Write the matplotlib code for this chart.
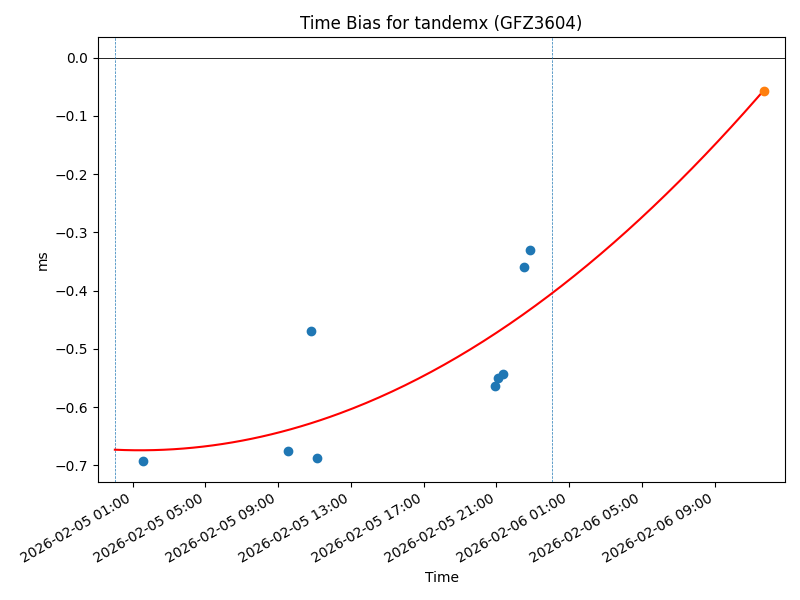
import numpy as np
import pandas as pd
from matplotlib import pyplot as plt
import matplotlib.dates as mdates

# observed time bias (ms)
obs_time = pd.to_datetime([
    '2026-02-05 01:33', '2026-02-05 09:31', '2026-02-05 10:47', '2026-02-05 11:07',
    '2026-02-05 20:56', '2026-02-05 21:05', '2026-02-05 21:20', '2026-02-05 22:31',
    '2026-02-05 22:52',
])
obs_bias = [-0.693, -0.676, -0.470, -0.688, -0.564, -0.550, -0.543, -0.360, -0.330]

# predicted point
pred_time = pd.to_datetime(['2026-02-06 11:42'])
pred_bias = [-0.057]

# quadratic fit (hours since 2026-02-05 00:00), coefficients
fit_coef = [0.000525, -0.00147, -0.67298]
fit_start = pd.Timestamp('2026-02-05 00:01')
fit_end = pd.Timestamp('2026-02-06 11:42')

# day boundary markers
day_lines = pd.to_datetime(['2026-02-05 00:01', '2026-02-06 00:02'])

t0 = pd.Timestamp('2026-02-05 00:00')
fit_t = pd.date_range(fit_start, fit_end, periods=200)
fit_h = (fit_t - t0) / pd.Timedelta(hours=1)
fit_y = np.polyval(fit_coef, np.asarray(fit_h))

fig, ax = plt.subplots(figsize=(8, 6), dpi=100)
ax.set_title('Time Bias for tandemx (GFZ3604)')
ax.set_xlabel('Time')
ax.set_ylabel('ms')

ax.axhline(0, color='black', linewidth=0.6)
for d in day_lines:
    ax.axvline(d, color='C0', linestyle='--', linewidth=0.5)

ax.scatter(obs_time, obs_bias, color='C0')
ax.plot(fit_t, fit_y, color='red')
ax.scatter(pred_time, pred_bias, color='C1', zorder=3)

ax.set_xlim(pd.Timestamp('2026-02-04 23:06'), pd.Timestamp('2026-02-06 12:52'))
ax.xaxis.set_major_locator(mdates.HourLocator(byhour=range(1, 24, 4)))
ax.xaxis.set_major_formatter(mdates.DateFormatter('%Y-%m-%d %H:%M'))
fig.autofmt_xdate()
fig.tight_layout()
fig.savefig('out.png')
